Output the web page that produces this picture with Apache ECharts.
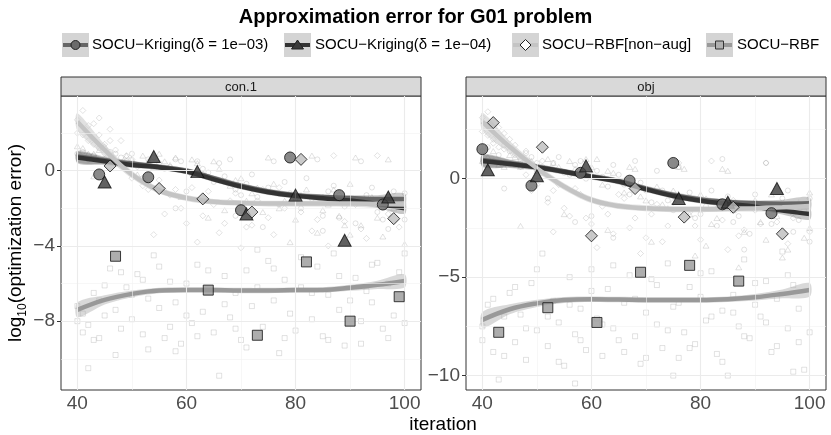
<!DOCTYPE html>
<html>
<head>
<meta charset="utf-8">
<script src="https://cdn.jsdelivr.net/npm/echarts@6/dist/echarts.min.js"></script>
<style>
  html, body { margin: 0; padding: 0; background: #fff; }
  #chart { width: 831px; height: 435px; }
</style>
</head>
<body>
<div id="chart"></div>
<script>
// ---- data ----
const panels = ['con.1', 'obj']
const methods = ['SOCU\u2212Kriging(\u03b4 = 1e\u221203)', 'SOCU\u2212Kriging(\u03b4 = 1e\u221204)', 'SOCU\u2212RBF[non\u2212aug]', 'SOCU\u2212RBF']

const xTicks = [40, 60, 80, 100]
const xMinor = [50, 70, 90]
const yTicksCon = [-8, -4, 0]
const yMinorCon = [-10, -6, -2, 2]
const yTicksObj = [-10, -5, 0]
const yMinorObj = [-7.5, -2.5, 2.5]

// loess fits, evaluated at these iterations
const fitX = [40, 45, 50, 55, 60, 65, 70, 75, 80, 85, 90, 95, 100]
const conK3Fit = [0.75, 0.55, 0.38, 0.2, 0.0, -0.4, -0.8, -1.1, -1.3, -1.4, -1.45, -1.5, -1.5]
const conK4Fit = [0.7, 0.5, 0.3, 0.18, -0.05, -0.46, -0.85, -1.15, -1.34, -1.47, -1.59, -1.77, -2.0]
const conNaFit = [2.6, 1.1, -0.2, -1.05, -1.45, -1.65, -1.72, -1.75, -1.75, -1.75, -1.75, -1.77, -1.8]
const conRbfFit = [-7.4, -6.87, -6.55, -6.37, -6.34, -6.35, -6.37, -6.37, -6.35, -6.34, -6.23, -6.07, -5.86]
const objK3Fit = [0.95, 0.78, 0.6, 0.37, 0.12, -0.12, -0.5, -0.82, -1.05, -1.18, -1.25, -1.27, -1.25]
const objK4Fit = [0.9, 0.75, 0.58, 0.35, 0.1, -0.15, -0.54, -0.88, -1.12, -1.28, -1.42, -1.62, -1.79]
const objNaFit = [2.9, 1.62, 0.53, -0.4, -1.08, -1.39, -1.5, -1.55, -1.55, -1.53, -1.5, -1.45, -1.39]
const objRbfFit = [-7.17, -6.63, -6.33, -6.16, -6.12, -6.14, -6.16, -6.16, -6.16, -6.12, -6.02, -5.85, -5.65]
// half width of the confidence band
const bandK = [0.3, 0.2, 0.15, 0.14, 0.14, 0.14, 0.14, 0.14, 0.14, 0.14, 0.15, 0.2, 0.3]
const bandNa = [0.45, 0.3, 0.2, 0.17, 0.16, 0.15, 0.15, 0.15, 0.15, 0.15, 0.17, 0.22, 0.32]
const bandRbf = [0.4, 0.25, 0.18, 0.15, 0.14, 0.14, 0.14, 0.14, 0.14, 0.14, 0.16, 0.22, 0.35]

// highlighted points
const conK3Pts = [[44, -0.2], [53, -0.35], [70, -2.1], [79, 0.7], [88, -1.3], [96, -1.8]]
const conK4Pts = [[45, -0.6], [54, 0.75], [62, -0.05], [71, -2.3], [80, -1.3], [89, -3.7], [97, -1.4]]
const conNaPts = [[46, 0.25], [55, -0.95], [63, -1.5], [72, -2.2], [81, 0.6], [98, -2.55]]
const conRbfPts = [[47, -4.55], [64, -6.35], [73, -8.75], [82, -4.85], [90, -8.0], [99, -6.7]]
const objK3Pts = [[40, 1.5], [49, -0.35], [58, 0.3], [67, -0.1], [75, 0.8], [84, -1.3], [93, -1.75]]
const objK4Pts = [[41, 0.45], [50, 0.15], [59, 0.65], [76, -1.0], [85, -1.2], [94, -0.5]]
const objNaPts = [[42, 2.85], [51, 1.6], [60, -2.9], [68, -0.5], [77, -1.95], [86, -1.45], [95, -2.8]]
const objRbfPts = [[43, -7.8], [52, -6.55], [61, -7.3], [69, -4.75], [78, -4.4], [87, -5.2]]

// faint background runs
const conK3Cloud = [[41,1.0],[43,0.8],[45,0.6],[47,0.9],[49,0.5],[51,0.3],[53,0.6],[55,0.4],[57,0.2],[59,0.5],[61,-0.2],[63,0.1],[65,-0.6],[67,-0.3],[69,-1.0],[71,-0.7],[73,-1.4],[75,-0.9],[77,-1.8],[79,-1.2],[81,-2.0],[83,-1.5],[85,-2.4],[87,-0.8],[89,-1.9],[91,-2.8],[93,-1.3],[95,-2.2],[97,-3.1],[99,-1.7],[44,1.2],[52,-0.4],[60,-1.1],[68,0.6],[76,0.5],[84,0.6],[92,0.5],[100,-2.6],[58,-2.0],[74,-3.0],
  [40,0.9],[42,0.6],[46,1.0],[48,0.7],[50,0.9],[54,0.7],[56,0.1],[58,0.6],[62,0.5],[64,-0.1],[66,0.4],[70,-1.3],[72,-0.2],[78,-0.6],[80,-1.6],[82,-0.4],[86,-1.1],[88,-2.5],[90,-1.5],[94,-0.9],[96,-2.6],[98,-1.1],[100,-1.2],[85,-3.2],[69,-2.4]]
const conK4Cloud = [[40,1.3],[42,0.9],[44,1.1],[46,0.7],[48,0.4],[50,0.6],[52,0.8],[54,0.2],[56,0.5],[58,0.7],[60,0.0],[62,0.4],[64,-0.3],[66,0.1],[68,-0.8],[70,-0.4],[72,-1.2],[74,-2.2],[76,-0.7],[78,-1.6],[80,-2.6],[82,-1.0],[84,-3.3],[86,-1.8],[88,-2.4],[90,-0.7],[92,-2.9],[94,-1.4],[96,-3.5],[98,-2.0],[100,-3.9],[43,-0.3],[51,-0.2],[59,-1.4],[67,-2.1],[75,0.7],[83,0.8],[91,0.7],[97,0.6],[79,-3.8],
  [41,1.2],[43,0.9],[45,1.3],[47,0.5],[49,0.8],[53,0.5],[55,0.9],[57,0.3],[61,0.6],[63,-0.1],[65,0.5],[69,-0.5],[71,-1.6],[73,-0.9],[77,-2.0],[81,-1.3],[85,-2.1],[87,-1.0],[89,-2.9],[93,-1.6],[95,-2.5],[99,-1.8],[90,-3.4],[64,-2.5],[56,-1.0]]
const conNaCloud = [[40,2.0],[41,3.2],[42,1.6],[43,2.5],[44,1.9],[45,1.4],[46,2.2],[47,1.1],[48,1.6],[49,0.8],[50,-0.4],[51,0.2],[53,-1.0],[55,-0.5],[57,-1.3],[59,-2.0],[61,-0.9],[63,-2.4],[65,-1.8],[67,-2.8],[69,-1.2],[71,-3.0],[73,-1.6],[75,-2.5],[77,-0.9],[79,0.9],[81,-2.2],[83,-3.2],[85,-1.4],[87,0.8],[89,-2.7],[91,-1.8],[93,-3.6],[95,0.8],[97,-2.3],[99,-3.0],[54,-3.4],[62,-3.8],[70,-4.1],[86,-4.0],
  [40,2.7],[41,1.9],[42,2.4],[43,1.4],[44,2.8],[45,0.9],[46,1.6],[48,0.4],[50,0.6],[52,-0.8],[56,-2.3],[58,-1.0],[60,-2.8],[64,-1.1],[66,-3.3],[68,-1.6],[72,-2.9],[74,-1.0],[76,-3.4],[78,-2.0],[80,-1.5],[84,-2.6],[88,-1.3],[92,-3.1],[96,-1.9]]
const conRbfCloud = [[40,-8.0],[41,-7.6],[42,-8.2],[43,-9.0],[44,-6.9],[45,-7.7],[46,-5.2],[48,-8.4],[49,-6.2],[50,-7.9],[51,-5.5],[52,-8.7],[53,-6.8],[54,-4.5],[55,-7.3],[56,-8.9],[57,-5.9],[58,-7.0],[59,-9.2],[60,-6.0],[61,-8.1],[62,-5.0],[63,-7.5],[65,-8.6],[66,-10.9],[67,-5.6],[68,-7.8],[69,-6.5],[70,-9.0],[71,-5.3],[72,-7.2],[74,-8.3],[75,-4.8],[76,-6.9],[77,-9.7],[78,-5.8],[79,-7.6],[80,-8.5],[81,-6.2],[83,-7.9],[84,-5.1],[85,-8.8],[86,-6.6],[87,-4.4],[88,-7.4],[89,-9.3],[91,-5.7],[92,-8.0],[93,-6.4],[94,-7.0],[95,-4.9],[96,-8.4],[97,-6.0],[98,-7.7],[99,-5.4],[100,-8.1],[42,-10.5],[47,-9.8],[58,-9.6],[73,-4.2],
  [40,-7.2],[41,-8.6],[43,-6.5],[44,-8.9],[45,-6.1],[47,-7.4],[48,-5.4],[50,-6.6],[52,-5.8],[53,-9.5],[55,-5.1],[57,-8.3],[60,-7.7],[62,-8.8],[64,-5.3],[67,-7.1],[69,-8.4],[71,-9.4],[73,-6.2],[76,-5.2],[78,-8.9],[81,-4.6],[83,-6.5],[86,-9.0],[88,-5.6],[90,-6.9],[92,-9.2],[94,-5.0],[97,-8.9],[100,-4.4]]
const objK3Cloud = [[41,1.6],[43,1.2],[45,1.4],[47,0.9],[49,1.1],[51,0.6],[53,0.8],[55,0.3],[57,0.7],[59,0.0],[61,0.4],[63,-0.4],[65,0.2],[67,-0.8],[69,-0.2],[71,-1.2],[73,-0.6],[75,-1.6],[77,-1.0],[79,-2.0],[81,-1.4],[83,-2.4],[85,-0.9],[87,-1.9],[89,-2.8],[91,-1.3],[93,-2.3],[95,-1.0],[97,-2.7],[99,-1.6],[44,-0.5],[52,-1.0],[60,-1.9],[68,0.9],[76,0.6],[84,1.0],[92,0.8],[100,-3.2],[64,-3.0],[88,-3.6],
  [40,1.4],[42,0.9],[44,1.7],[46,0.7],[48,1.3],[50,0.8],[54,1.1],[56,0.2],[58,0.9],[62,0.1],[64,0.7],[66,-0.3],[70,-0.6],[72,0.4],[74,-1.1],[78,-0.7],[80,-1.8],[82,-0.6],[86,-2.2],[90,-0.8],[94,-1.6],[96,-0.6],[98,-2.1],[100,-1.0],[57,-2.2]]
const objK4Cloud = [[40,0.9],[42,1.4],[44,0.6],[46,1.1],[48,0.8],[50,0.4],[52,1.0],[54,0.6],[56,0.9],[58,0.2],[60,0.6],[62,-0.3],[64,0.3],[66,-0.7],[68,0.5],[70,-1.1],[72,-0.4],[74,-1.5],[76,0.6],[78,-1.8],[80,-0.8],[82,-2.3],[84,0.5],[86,-1.6],[88,-2.7],[90,-1.1],[92,-3.1],[94,-1.9],[96,-3.6],[98,-1.2],[100,-2.5],[47,-2.4],[55,-1.8],[63,-2.6],[71,-3.2],[79,-3.9],[87,-4.5],[95,-4.0],[99,-3.0],[61,1.0],
  [41,1.1],[43,0.7],[45,1.2],[47,0.6],[49,0.9],[51,0.3],[53,0.8],[57,0.5],[59,1.0],[63,0.4],[65,-0.1],[67,0.6],[69,-0.9],[73,-1.3],[75,-0.6],[77,0.5],[81,-1.0],[83,-2.0],[85,0.4],[89,-1.4],[91,-2.2],[93,-0.8],[97,-1.7],[100,-0.7],[81,-3.4]]
const objNaCloud = [[40,3.1],[41,2.2],[42,1.8],[43,2.6],[44,1.5],[45,2.0],[46,1.2],[47,0.6],[48,1.4],[49,-0.6],[50,0.4],[52,-1.2],[54,-0.3],[56,-1.9],[58,-0.8],[60,-2.3],[62,-1.4],[64,-2.8],[66,-1.0],[68,-2.0],[70,-3.0],[72,-1.3],[74,-2.4],[76,0.8],[78,-1.7],[80,-3.1],[82,0.9],[84,-2.1],[86,-1.1],[88,-2.6],[90,-1.6],[92,0.8],[94,-2.2],[96,-3.3],[98,-1.4],[100,-2.7],[53,-2.7],[61,-3.5],[69,-3.8],[85,-3.6],
  [40,2.4],[41,3.4],[42,2.0],[43,1.6],[44,2.3],[46,1.7],[47,1.0],[48,0.2],[50,-0.3],[51,0.9],[53,-0.6],[55,-1.5],[57,-0.5],[59,-2.0],[63,-1.8],[65,-0.8],[67,-2.5],[71,-1.8],[73,-3.2],[75,-1.2],[79,-2.4],[83,-1.5],[87,-2.9],[91,-2.3],[97,-2.0]]
const objRbfCloud = [[40,-7.5],[41,-6.4],[42,-8.8],[43,-10.2],[44,-7.0],[45,-5.8],[46,-8.3],[47,-6.9],[48,-9.2],[49,-5.3],[50,-7.7],[51,-3.8],[52,-8.5],[53,-6.2],[54,-7.3],[55,-9.5],[56,-5.0],[57,-7.9],[58,-6.6],[59,-8.7],[60,-4.6],[61,-7.1],[62,-9.0],[63,-5.6],[64,-7.6],[65,-8.2],[66,-6.3],[67,-4.9],[68,-8.0],[69,-9.4],[70,-6.8],[71,-5.1],[72,-7.4],[73,-8.6],[74,-4.3],[75,-6.5],[76,-9.1],[77,-7.8],[78,-5.5],[79,-8.4],[80,-6.0],[81,-7.2],[82,-4.7],[83,-8.9],[84,-6.7],[85,-10.0],[86,-5.9],[87,-7.5],[88,-4.1],[89,-8.1],[90,-6.4],[91,-7.0],[92,-5.2],[93,-8.8],[94,-6.1],[95,-3.7],[96,-7.6],[97,-5.4],[98,-8.3],[99,-9.7],
  [40,-8.2],[42,-6.1],[44,-9.0],[46,-5.5],[48,-7.6],[50,-4.6],[52,-7.0],[54,-9.3],[56,-6.4],[58,-8.2],[60,-5.7],[62,-7.4],[64,-4.4],[66,-8.8],[68,-6.1],[70,-9.1],[72,-5.4],[74,-7.7],[76,-6.3],[78,-8.6],[80,-4.8],[82,-7.0],[84,-9.3],[86,-6.8],[88,-8.0],[90,-5.3],[92,-7.3],[94,-8.5],[96,-4.9],[98,-6.6],[100,-7.8],[57,-10.4],[75,-10.0],[97,-9.8]]

// ---- styling ----
const FONT = 'Liberation Sans, Arial, Helvetica, sans-serif'
const lineColors = ['#666666', '#333333', '#c4c4c4', '#999999']
const markFill = ['#6b6b6b', '#3a3a3a', '#bdbdbd', '#999999']
const bandFill = ['rgba(110,110,110,0.35)', 'rgba(70,70,70,0.3)', 'rgba(205,205,205,0.6)', 'rgba(170,170,170,0.45)']
const shapes = ['circle', 'triangle', 'diamond', 'rect']
const bigSize = [11, [13, 12], 12, 10]
const faintSize = [5, [6, 5], 6, 5]

const panelData = [
  { fits: [conK3Fit, conK4Fit, conNaFit, conRbfFit], pts: [conK3Pts, conK4Pts, conNaPts, conRbfPts],
    clouds: [conK3Cloud, conK4Cloud, conNaCloud, conRbfCloud], yMin: -11.66, yMax: 3.97, yTicks: yTicksCon, yMinor: yMinorCon },
  { fits: [objK3Fit, objK4Fit, objNaFit, objRbfFit], pts: [objK3Pts, objK4Pts, objNaPts, objRbfPts],
    clouds: [objK3Cloud, objK4Cloud, objNaCloud, objRbfCloud], yMin: -10.73, yMax: 4.2, yTicks: yTicksObj, yMinor: yMinorObj },
]
const bands = [bandK, bandK, bandNa, bandRbf]

const gridBoxes = [
  { left: 61, top: 96, width: 360, height: 294 },
  { left: 466, top: 96, width: 360, height: 294 },
]

const minus = v => (v < 0 ? '\u2212' + Math.abs(v) : String(v))

const series = []
panelData.forEach((pd, p) => {
  // grid lines
  series.push({
    type: 'line', xAxisIndex: p, yAxisIndex: p, data: [], silent: true, z: 0,
    markLine: {
      silent: true, symbol: 'none', animation: false, label: { show: false },
      data: [
        ...xMinor.map(v => ({ xAxis: v, lineStyle: { color: '#f2f2f2', width: 0.6, type: 'solid' } })),
        ...pd.yMinor.map(v => ({ yAxis: v, lineStyle: { color: '#f2f2f2', width: 0.6, type: 'solid' } })),
        ...xTicks.map(v => ({ xAxis: v, lineStyle: { color: '#ebebeb', width: 1.1, type: 'solid' } })),
        ...pd.yTicks.map(v => ({ yAxis: v, lineStyle: { color: '#ebebeb', width: 1.1, type: 'solid' } })),
      ],
    },
  })
  // faint runs
  pd.clouds.forEach((c, m) => {
    series.push({
      type: 'scatter', xAxisIndex: p, yAxisIndex: p, data: c, z: 1, silent: true,
      symbol: shapes[m], symbolSize: faintSize[m],
      itemStyle: { color: 'rgba(255,255,255,0)', borderColor: 'rgba(150,150,150,0.38)', borderWidth: 0.9 },
    })
  })
  // confidence bands (lower / upper per fit point)
  pd.fits.forEach((f, m) => {
    const b = bands[m]
    series.push({
      type: 'custom', xAxisIndex: p, yAxisIndex: p, z: 2, silent: true, clip: true,
      data: fitX.map((x, i) => [x, f[i] - b[i], f[i] + b[i]]),
      encode: { x: 0, y: [1, 2] },
      renderItem: (params, api) => {
        if (params.dataIndex !== 0) return null
        const upper = fitX.map((x, i) => api.coord([x, f[i] + b[i]]))
        const lower = fitX.map((x, i) => api.coord([x, f[i] - b[i]])).reverse()
        return { type: 'polygon', shape: { points: upper.concat(lower), smooth: 0.3 }, style: { fill: bandFill[m], stroke: null } }
      },
    })
  })
  // fitted lines
  pd.fits.forEach((f, m) => {
    series.push({
      name: methods[m], type: 'line', xAxisIndex: p, yAxisIndex: p, smooth: 0.4, symbol: 'none', z: 3,
      data: fitX.map((x, i) => [x, f[i]]),
      lineStyle: { color: lineColors[m], width: 4.5 },
    })
  })
  // highlighted points
  pd.pts.forEach((pts, m) => {
    series.push({
      type: 'scatter', xAxisIndex: p, yAxisIndex: p, data: pts, z: 5,
      symbol: shapes[m], symbolSize: bigSize[m],
      itemStyle: { color: markFill[m], borderColor: '#111', borderWidth: 1 },
    })
  })
})

const axisLabelStyle = { color: '#4d4d4d', fontSize: 19, fontFamily: FONT }

const xAxes = gridBoxes.map((g, p) => ({
  type: 'value', gridIndex: p, min: 37, max: 103,
  axisLine: { show: false },
  axisTick: { show: true, length: 4, lineStyle: { color: '#333' }, customValues: xTicks },
  axisLabel: { ...axisLabelStyle, margin: 4, customValues: xTicks },
  splitLine: { show: false },
}))
const yAxes = gridBoxes.map((g, p) => ({
  type: 'value', gridIndex: p, min: panelData[p].yMin, max: panelData[p].yMax,
  axisLine: { show: false },
  axisTick: { show: true, length: 4, lineStyle: { color: '#333' }, customValues: panelData[p].yTicks },
  axisLabel: { ...axisLabelStyle, margin: 6, customValues: panelData[p].yTicks, formatter: minus },
  splitLine: { show: false },
}))
yAxes[0].name = '{n|log}{s|10}{n|(optimization error)}'
yAxes[0].nameLocation = 'middle'
yAxes[0].nameGap = 32
yAxes[0].nameTextStyle = {
  fontFamily: FONT, color: '#000',
  rich: {
    n: { fontSize: 19, fontFamily: FONT, color: '#000', lineHeight: 19 },
    s: { fontSize: 12, fontFamily: FONT, color: '#000', lineHeight: 26, verticalAlign: 'bottom' },
  },
}

// legend built from graphic pieces (ggplot style keys with grey boxes)
const legendX = [62, 284, 512, 706]
const legendTextX = [92, 315, 542, 737]
const keyW = 27, keyH = 24, keyY = 33
function keySymbol(m, cx, cy) {
  const st = { fill: m === 2 ? '#fff' : markFill[m], stroke: '#222', lineWidth: 1 }
  if (m === 0) return { type: 'circle', shape: { cx, cy, r: 4.5 }, style: st }
  if (m === 1) return { type: 'polygon', shape: { points: [[cx, cy - 5], [cx + 6, cy + 4], [cx - 6, cy + 4]] }, style: st }
  if (m === 2) return { type: 'polygon', shape: { points: [[cx, cy - 5.5], [cx + 5.5, cy], [cx, cy + 5.5], [cx - 5.5, cy]] }, style: st }
  return { type: 'rect', shape: { x: cx - 4, y: cy - 4, width: 8, height: 8 }, style: { fill: '#b0b0b0', stroke: '#333', lineWidth: 1 } }
}
const legendGraphics = []
methods.forEach((name, m) => {
  const x = legendX[m], cy = keyY + keyH / 2
  legendGraphics.push({ type: 'rect', shape: { x, y: keyY, width: keyW, height: keyH }, style: { fill: '#d4d4d4' }, silent: true })
  legendGraphics.push({ type: 'line', shape: { x1: x + 1, y1: cy, x2: x + keyW - 1, y2: cy }, style: { stroke: lineColors[m], lineWidth: 4 }, silent: true })
  legendGraphics.push(Object.assign(keySymbol(m, x + keyW / 2, cy), { silent: true }))
  legendGraphics.push({ type: 'text', x: legendTextX[m], y: cy, silent: true,
    style: { text: name, fontSize: 15, fontFamily: FONT, fill: '#000', verticalAlign: 'middle', align: 'left' } })
})

// facet strips
const stripGraphics = []
gridBoxes.forEach((g, p) => {
  stripGraphics.push({ type: 'rect', shape: { x: g.left, y: 77, width: g.width, height: 19 },
    style: { fill: '#d9d9d9', stroke: '#333', lineWidth: 1 }, silent: true })
  stripGraphics.push({ type: 'text', x: g.left + g.width / 2, y: 87, silent: true,
    style: { text: panels[p], fontSize: 13, fontFamily: FONT, fill: '#1a1a1a', align: 'center', verticalAlign: 'middle' } })
})

const chart = echarts.init(document.getElementById('chart'), null, { renderer: 'canvas' })
chart.setOption({
  animation: false,
  backgroundColor: '#fff',
  title: {
    text: 'Approximation error for G01 problem', left: 'center', top: 2,
    textStyle: { fontSize: 20, fontWeight: 'bold', fontFamily: FONT, color: '#000' },
  },
  grid: gridBoxes.map(g => ({ ...g, show: true, borderColor: '#333', borderWidth: 1, backgroundColor: '#fff' })),
  xAxis: xAxes,
  yAxis: yAxes,
  series,
  graphic: [
    ...stripGraphics,
    ...legendGraphics,
    { type: 'text', x: 443, y: 425, silent: true,
      style: { text: 'iteration', fontSize: 19, fontFamily: FONT, fill: '#000', align: 'center', verticalAlign: 'middle' } },
  ],
})
</script>
</body>
</html>
